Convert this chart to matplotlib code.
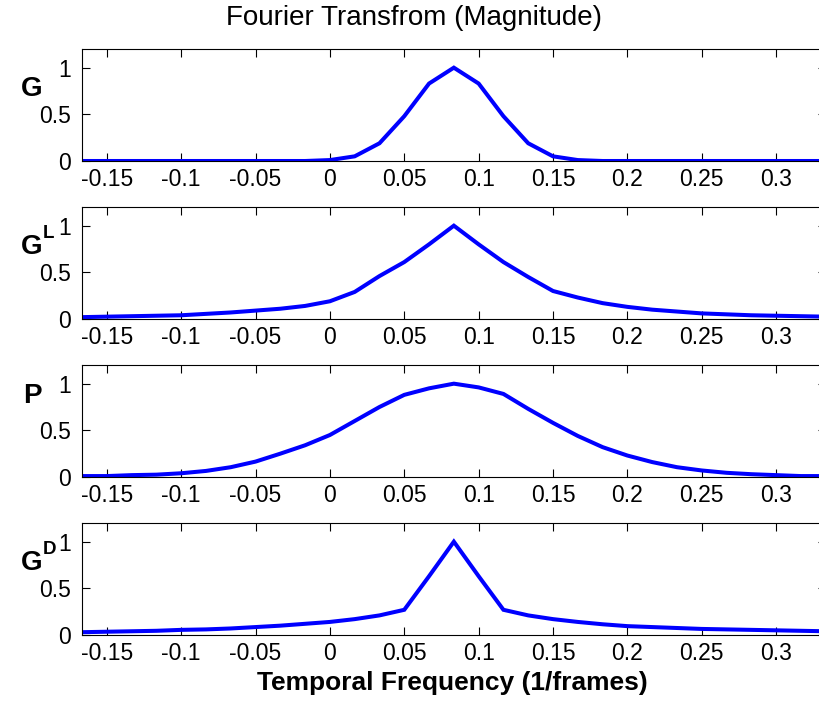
import numpy as np
import matplotlib
matplotlib.use("Agg")
import matplotlib.pyplot as plt

plt.rcParams['font.family'] = ['Liberation Sans', 'DejaVu Sans']

# frekvence vzorcev (1/frames), korak 1/60
freq = np.arange(-10, 21) / 60.0

# odčitane vrednosti (magnituda) za vsako krivuljo
g_vals = [0, 0, 0, 0, 0, 0, 0, 0, 0, 0,
          0.01, 0.05, 0.19, 0.48, 0.83, 1.0, 0.83, 0.48, 0.19, 0.05,
          0.01, 0, 0, 0, 0, 0, 0, 0, 0, 0, 0]
gl_vals = [0.02, 0.025, 0.03, 0.035, 0.04, 0.055, 0.07, 0.09, 0.11, 0.14,
           0.19, 0.29, 0.46, 0.61, 0.8, 1.0, 0.8, 0.61, 0.45, 0.3,
           0.23, 0.17, 0.13, 0.1, 0.08, 0.06, 0.05, 0.04, 0.035, 0.03, 0.025]
p_vals = [0.01, 0.01, 0.02, 0.025, 0.04, 0.065, 0.105, 0.165, 0.25, 0.34,
          0.45, 0.6, 0.75, 0.88, 0.95, 1.0, 0.96, 0.89, 0.73, 0.58,
          0.44, 0.32, 0.23, 0.16, 0.105, 0.07, 0.045, 0.03, 0.02, 0.01, 0.01]
gd_vals = [0.03, 0.035, 0.04, 0.045, 0.055, 0.06, 0.07, 0.085, 0.1, 0.12,
           0.14, 0.17, 0.21, 0.27, 0.63, 1.0, 0.63, 0.27, 0.21, 0.17,
           0.14, 0.115, 0.095, 0.085, 0.075, 0.065, 0.06, 0.055, 0.05, 0.045, 0.04]

series = [g_vals, gl_vals, p_vals, gd_vals]
labels = [("G", ""), ("G", "L"), ("P", ""), ("G", "D")]

xticks = [-0.15, -0.1, -0.05, 0, 0.05, 0.1, 0.15, 0.2, 0.25, 0.3]
xticklabels = ["-0.15", "-0.1", "-0.05", "0", "0.05", "0.1", "0.15", "0.2", "0.25", "0.3"]
yticks = [0, 0.5, 1]
yticklabels = ["0", "0.5", "1"]

W, H = 819, 702
fig = plt.figure(figsize=(W / 100, H / 100), dpi=100)

# položaji osi v pikslih (desni rob sega malo čez sliko, kot v izvirniku)
left_px = 82
width_px = 743.7
height_px = 112
tops = [49, 207, 365, 523]
label_y = [89, 247, 396, 563]

for i in range(4):
    ax = fig.add_axes([left_px / W, 1 - (tops[i] + height_px) / H, width_px / W, height_px / H])
    ax.plot(freq, series[i], '-', color="#0000ff", linewidth=2.9, solid_joinstyle='miter')
    ax.set_xlim(-1 / 6, 1 / 3)
    ax.set_ylim(0, 1.2)
    ax.set_xticks(xticks)
    ax.set_xticklabels(xticklabels)
    ax.set_yticks(yticks)
    ax.set_yticklabels(yticklabels)
    ax.tick_params(direction='in', top=True, right=True, length=5.5, width=0.8,
                   labelsize=16.5, pad=5)
    ax.tick_params(axis='y', pad=8)
    for s in ax.spines.values():
        s.set_linewidth(0.8)

    main, sup = labels[i]
    fig.text(42 / W, 1 - label_y[i] / H, main, ha='right', va='center',
             fontsize=20, fontweight='bold')
    if sup:
        fig.text(43 / W, 1 - (label_y[i] - 14) / H, sup, ha='left', va='center',
                 fontsize=13.5, fontweight='bold')

fig.text(414 / W, 1 - 18 / H, "Fourier Transfrom (Magnitude)", ha='center', va='center',
         fontsize=20)
fig.text(452 / W, 1 - 683 / H, "Temporal Frequency (1/frames)", ha='center', va='center',
         fontsize=19, fontweight='bold')

fig.savefig("out.png", dpi=100)
